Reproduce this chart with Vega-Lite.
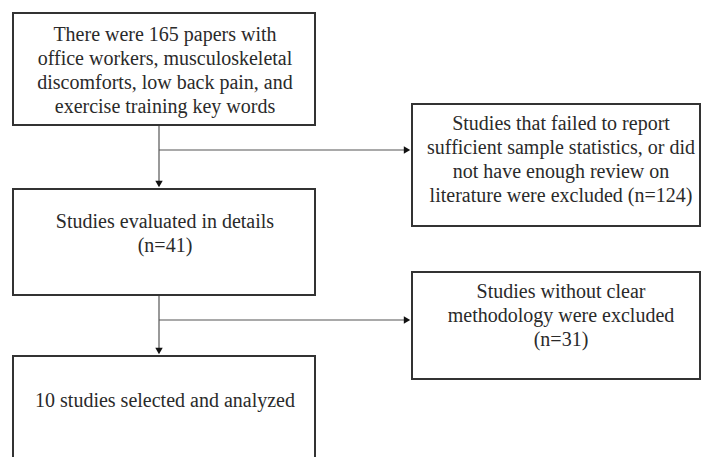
{
  "$schema": "https://vega.github.io/schema/vega-lite/v6.json",
  "width": 702,
  "height": 457,
  "autosize": {"type": "fit", "contains": "padding"},
  "padding": 0,
  "background": "white",
  "config": {"view": {"stroke": null}},
  "datasets": {
    "boxes": [
      {"id": "b1", "x1": 13, "x2": 315, "y1": 13, "y2": 125, "tx": 165, "ty": 35, "label": "There were 165 papers with\noffice workers, musculoskeletal\ndiscomforts, low back pain, and\nexercise training key words"},
      {"id": "b2", "x1": 412, "x2": 700, "y1": 104, "y2": 226, "tx": 561, "ty": 124, "label": "Studies that failed to report\nsufficient sample statistics, or did\nnot have enough review on\nliterature were excluded (n=124)"},
      {"id": "b3", "x1": 13, "x2": 315, "y1": 189, "y2": 295, "tx": 165, "ty": 222, "label": "Studies evaluated in details\n(n=41)"},
      {"id": "b4", "x1": 412, "x2": 700, "y1": 272, "y2": 379, "tx": 561, "ty": 292, "label": "Studies without clear\nmethodology were excluded\n(n=31)"},
      {"id": "b5", "x1": 13, "x2": 315, "y1": 356, "y2": 475, "tx": 165, "ty": 401, "label": "10 studies selected and analyzed"}
    ],
    "lines": [
      {"x1": 159, "y1": 125, "x2": 159, "y2": 184},
      {"x1": 159, "y1": 150, "x2": 408, "y2": 150},
      {"x1": 159, "y1": 295, "x2": 159, "y2": 352},
      {"x1": 159, "y1": 320, "x2": 408, "y2": 320}
    ],
    "arrows": [
      {"dir": "down", "x": 159, "y": 184},
      {"dir": "down", "x": 159, "y": 351},
      {"dir": "right", "x": 407, "y": 150},
      {"dir": "right", "x": 407, "y": 320}
    ]
  },
  "layer": [
    {
      "data": {"name": "lines"},
      "mark": {"type": "rule", "color": "#555555", "strokeWidth": 1.2},
      "encoding": {
        "x": {"field": "x1", "type": "quantitative", "scale": {"domain": [0, 702], "nice": false, "zero": false}, "axis": null},
        "y": {"field": "y1", "type": "quantitative", "scale": {"domain": [0, 457], "nice": false, "zero": false, "reverse": true}, "axis": null},
        "x2": {"field": "x2"},
        "y2": {"field": "y2"}
      }
    },
    {
      "data": {"name": "boxes"},
      "mark": {"type": "rect", "fill": "white", "stroke": "#333333", "strokeWidth": 2, "clip": true},
      "encoding": {
        "x": {"field": "x1", "type": "quantitative", "scale": {"domain": [0, 702], "nice": false, "zero": false}, "axis": null},
        "y": {"field": "y1", "type": "quantitative", "scale": {"domain": [0, 457], "nice": false, "zero": false, "reverse": true}, "axis": null},
        "x2": {"field": "x2"},
        "y2": {"field": "y2"}
      }
    },
    {
      "data": {"name": "arrows"},
      "transform": [{"filter": "datum.dir === 'down'"}],
      "mark": {"type": "point", "shape": "triangle-down", "filled": true, "color": "#111111", "size": 55, "opacity": 1},
      "encoding": {
        "x": {"field": "x", "type": "quantitative", "scale": {"domain": [0, 702], "nice": false, "zero": false}, "axis": null},
        "y": {"field": "y", "type": "quantitative", "scale": {"domain": [0, 457], "nice": false, "zero": false, "reverse": true}, "axis": null}
      }
    },
    {
      "data": {"name": "arrows"},
      "transform": [{"filter": "datum.dir === 'right'"}],
      "mark": {"type": "point", "shape": "triangle-right", "filled": true, "color": "#111111", "size": 55, "opacity": 1},
      "encoding": {
        "x": {"field": "x", "type": "quantitative", "scale": {"domain": [0, 702], "nice": false, "zero": false}, "axis": null},
        "y": {"field": "y", "type": "quantitative", "scale": {"domain": [0, 457], "nice": false, "zero": false, "reverse": true}, "axis": null}
      }
    },
    {
      "data": {"name": "boxes"},
      "mark": {"type": "text", "font": "Liberation Serif", "fontSize": 20, "color": "#2a2a2a", "align": "center", "baseline": "middle", "lineBreak": "\n", "lineHeight": 24},
      "encoding": {
        "x": {"field": "tx", "type": "quantitative", "scale": {"domain": [0, 702], "nice": false, "zero": false}, "axis": null},
        "y": {"field": "ty", "type": "quantitative", "scale": {"domain": [0, 457], "nice": false, "zero": false, "reverse": true}, "axis": null},
        "text": {"field": "label"}
      }
    }
  ]
}
